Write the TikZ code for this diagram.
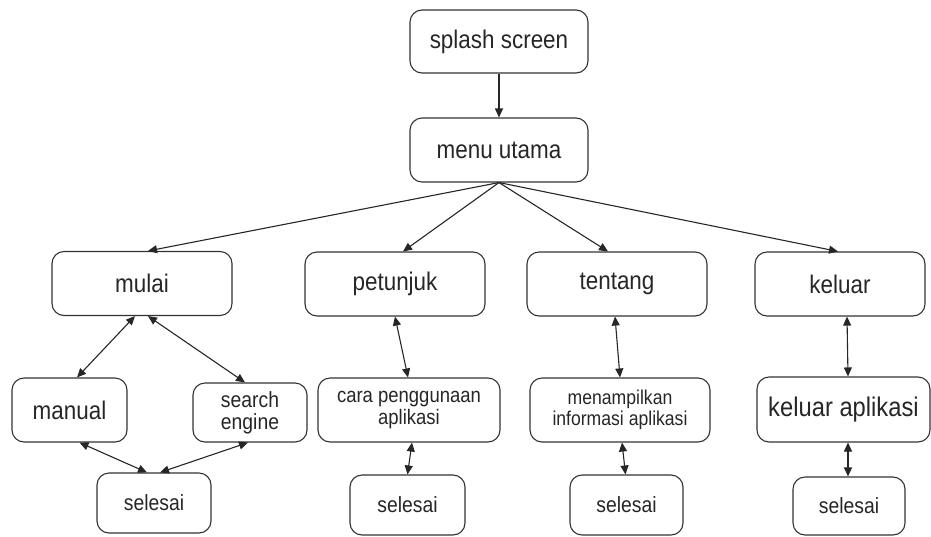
\documentclass[tikz,border=0pt]{standalone}
\usepackage{fontspec}
\setmainfont{Liberation Sans}[FakeStretch=0.88]
\usetikzlibrary{arrows.meta}
\begin{document}
\begin{tikzpicture}[x=1pt, y=-1pt,
        box/.style={rectangle, draw=black!80, line width=1.1pt, rounded corners=12pt,
          minimum width=180pt, minimum height=64pt, align=center,
          inner sep=2pt, text=black!85, font=\fontsize{25.5}{24}\selectfont},
        small/.style={box, minimum width=114pt, minimum height=60pt,
          font=\fontsize{22}{22}\selectfont},
        arrow/.style={-{Triangle[length=9pt,width=8pt]}, line width=1.1pt, draw=black!85},
        twoway/.style={{Triangle[length=9pt,width=8pt]}-{Triangle[length=9pt,width=8pt]},
          line width=1.1pt, draw=black!85}
      ]
      \useasboundingbox (0,0) rectangle (931,536);
      % top
      \node[box, minimum width=178pt, minimum height=63pt] (splash) at (499,41.5) {splash screen};
      \node[box, minimum width=178pt] (menu) at (499,150) {menu utama};
      % menu row
      \node[box] (mulai)    at (142,283.5) {mulai};
      \node[box] (petunjuk) at (395,284) {petunjuk};
      \node[box] (tentang)  at (617,284) {tentang};
      \node[box, minimum width=170pt] (keluar) at (840,284) {keluar};
      % sub items
      \node[box, minimum width=115pt] (manual) at (69.5,410) {manual};
      \node[small, minimum height=59pt] (search) at (250,412.5)
      {search\\engine};
      \node[box, minimum width=182pt, font=\fontsize{21}{22}\selectfont] (cara) at (409,410)
      {cara penggunaan\\aplikasi};
      \node[box, font=\fontsize{20}{21}\selectfont] (info) at (620,410)
      {menampilkan\\informasi aplikasi};
      \node[box, minimum width=173pt, minimum height=65pt, font=\fontsize{27}{25}\selectfont]
      (kapl) at (843.5,409.5) {keluar aplikasi};
      % selesai
      \node[small] (sel1) at (154,503) {selesai};
      \node[small, minimum width=115pt] (sel2) at (407.5,505) {selesai};
      \node[small, minimum width=113pt] (sel3) at (626.5,505) {selesai};
      \node[small, minimum width=112pt, minimum height=58pt] (sel4) at (849,506) {selesai};
      % arrows
      \draw[arrow] (splash) -- (menu);
      \foreach \b/\s in {mulai/6,petunjuk/8,tentang/-9,keluar/-2}
      {\draw[arrow] (menu.south) -- ([xshift=\s pt]\b.north);}
      \foreach \a/\sa/\b/\sb in {mulai/-7/manual/7.5, mulai/6/search/-5,
        manual/10/sel1/-7, search/-2/sel1/6,
        petunjuk/0/cara/-1, cara/3/sel2/0,
        tentang/-2/info/0, info/2/sel3/-1,
        keluar/7/kapl/4.5, kapl/4.5/sel4/-1}
      {\draw[twoway] ([xshift=\sa pt]\a.south) -- ([xshift=\sb pt]\b.north);}
    \end{tikzpicture}
\end{document}
